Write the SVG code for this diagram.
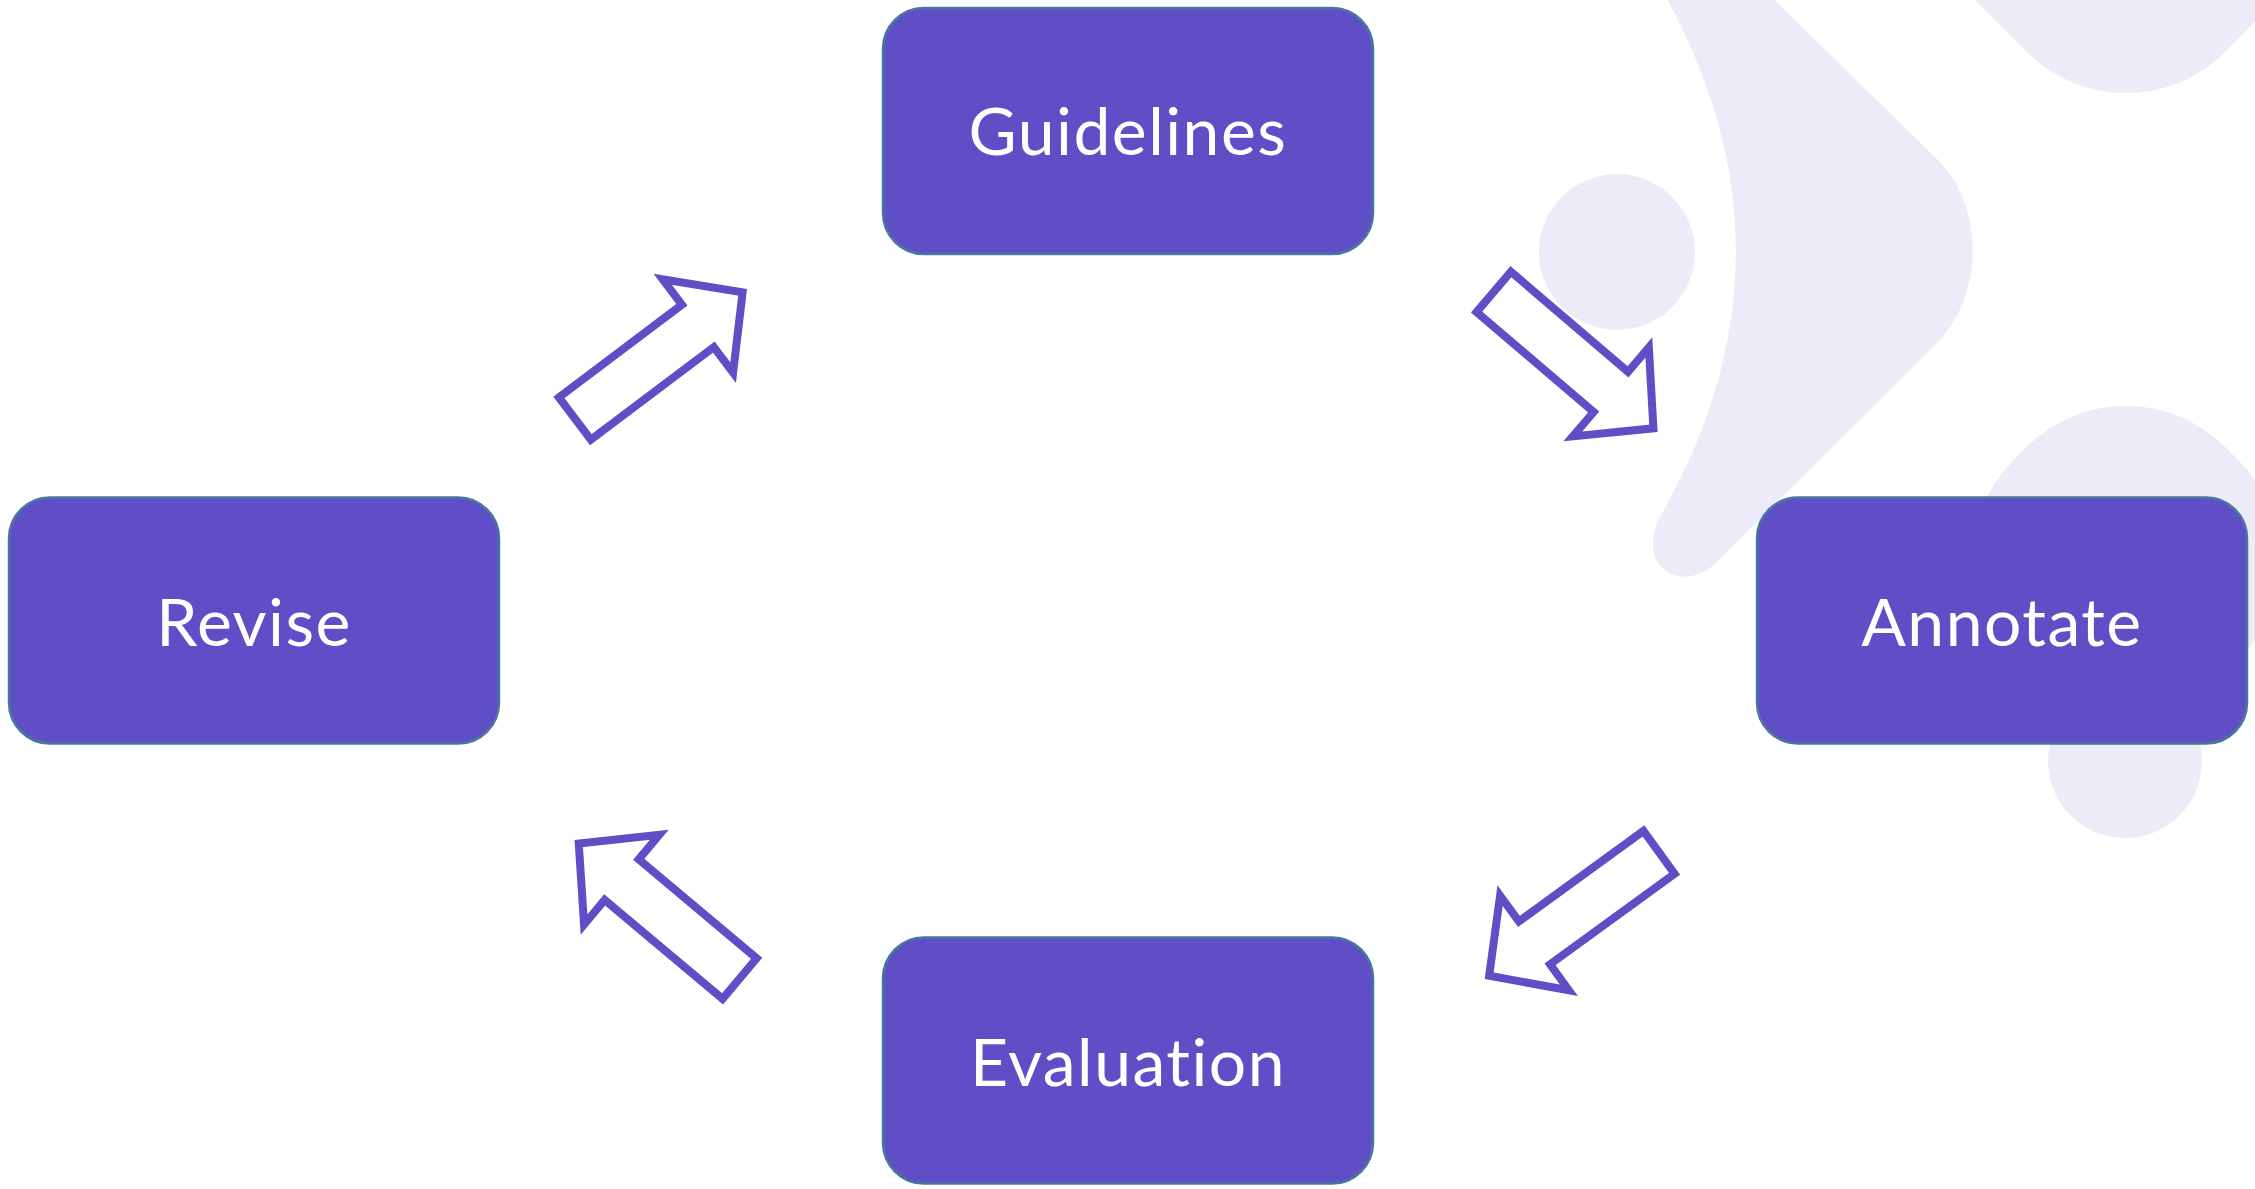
<svg xmlns="http://www.w3.org/2000/svg" xmlns:xlink="http://www.w3.org/1999/xlink" width="2255" height="1189" viewBox="0 0 2255 1189">
<style>
.bg{fill:#EDEBF8;}
.box{fill:#604EC7;stroke:#4A76A0;stroke-width:2.5;}
.lbl{font-family:Lato,"Open Sans",sans-serif;font-size:66px;letter-spacing:1.5px;font-variant-ligatures:none;font-feature-settings:"liga" 0;fill:#FFFFFF;text-anchor:middle;}
.arr{fill:#FFFFFF;stroke:#604EC7;stroke-width:8;stroke-linejoin:miter;}
</style>
<defs>
<path id="blockArrow" d="M4,-26.5 L158,-26.5 L158,-58.5 L214,0 L158,58.5 L158,26.5 L4,26.5 Z"/>
</defs>
<rect x="0" y="0" width="2255" height="1189" fill="#FFFFFF"/>
<g id="background">
<path class="bg" d="M1662,-10 Q1812,256 1657,522 Q1645,558 1668,572 Q1690,584 1714,565 L1936,344 C1985,295 1985,205 1936,158 L1764,-10 Z"/>
<circle class="bg" cx="1617" cy="252" r="78"/>
<rect class="bg" x="-181.7" y="-181.7" width="363.5" height="363.5" rx="140" transform="translate(2126,-106) rotate(45)"/>
<rect class="bg" x="-150" y="-150" width="300" height="300" rx="140" transform="translate(2126,560) rotate(45)"/>
<circle class="bg" cx="2125" cy="761" r="77"/>
</g>
<g id="connectors">
<use xlink:href="#blockArrow" class="arr" transform="translate(571.7,421) rotate(-37)"/>
<use xlink:href="#blockArrow" class="arr" transform="translate(1490.7,289.3) rotate(40.5)"/>
<use xlink:href="#blockArrow" class="arr" transform="translate(1662.3,850) rotate(144)"/>
<use xlink:href="#blockArrow" class="arr" transform="translate(742.7,981.2) rotate(-140)"/>
</g>
<g id="node-guidelines">
<rect class="box" x="883" y="8" width="490" height="246" rx="41"/>
<text class="lbl" x="1128" y="155">Guidelines</text>
</g>
<g id="node-revise">
<rect class="box" x="9" y="497.5" width="490" height="246" rx="41"/>
<text class="lbl" x="254" y="645.5">Revise</text>
</g>
<g id="node-annotate">
<rect class="box" x="1757" y="497.5" width="490" height="246" rx="41"/>
<text class="lbl" x="2002" y="645.5">Annotate</text>
</g>
<g id="node-evaluation">
<rect class="box" x="883" y="937.5" width="490" height="246" rx="41"/>
<text class="lbl" x="1128" y="1085.5">Evaluation</text>
</g>
</svg>
